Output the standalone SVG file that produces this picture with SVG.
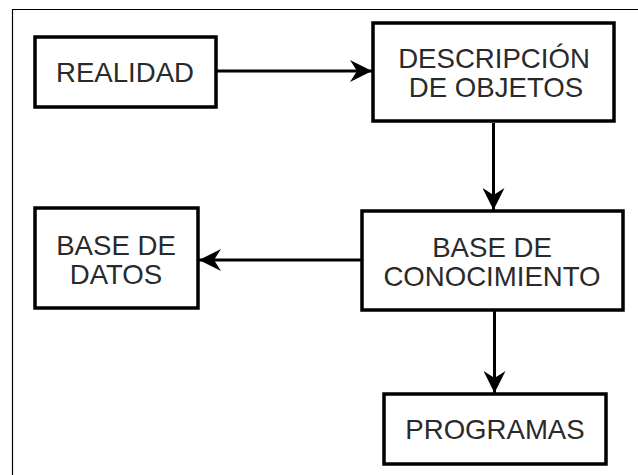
<svg xmlns="http://www.w3.org/2000/svg" width="638" height="475" viewBox="0 0 638 475">
<style>
.box{fill:#fff;stroke:#000;stroke-width:3.5}
.t{font-family:"Liberation Sans",Arial,sans-serif;font-size:27.6px;fill:#2a2a2a;text-anchor:middle}
.c{stroke:#000;stroke-width:3;fill:none}
</style>
<defs>
<marker id="ah" markerWidth="24" markerHeight="22" refX="22" refY="11" orient="auto" markerUnits="userSpaceOnUse">
<path d="M0,0 L22,11 L0,22 L7,11 Z" fill="#000"/>
</marker>
</defs>
<rect width="638" height="475" fill="#fff"/>
<path d="M12.5,475 V9.5 H638" stroke="#000" stroke-width="1.2" fill="none"/>
<g id="connectors">
<line class="c" x1="217" y1="71" x2="372" y2="71" marker-end="url(#ah)"/>
<line class="c" x1="493.5" y1="123" x2="493.5" y2="210" marker-end="url(#ah)"/>
<line class="c" x1="361" y1="260" x2="199" y2="260" marker-end="url(#ah)"/>
<line class="c" x1="494.5" y1="311" x2="494.5" y2="393" marker-end="url(#ah)"/>
</g>
<g id="realidad">
<rect class="box" x="35" y="37" width="181" height="70"/>
<text class="t" x="125" y="82">REALIDAD</text>
</g>
<g id="descripcion">
<rect class="box" x="373" y="23" width="241" height="98"/>
<text class="t" x="494" y="68">DESCRIPCIÓN</text>
<text class="t" x="496" y="97">DE OBJETOS</text>
</g>
<g id="base-conocimiento">
<rect class="box" x="362" y="211" width="261" height="99"/>
<text class="t" x="492" y="257">BASE DE</text>
<text class="t" x="492" y="286">CONOCIMIENTO</text>
</g>
<g id="base-datos">
<rect class="box" x="35" y="208" width="163" height="100"/>
<text class="t" x="116" y="255">BASE DE</text>
<text class="t" x="116" y="284">DATOS</text>
</g>
<g id="programas">
<rect class="box" x="384" y="394" width="222" height="70"/>
<text class="t" x="495" y="439">PROGRAMAS</text>
</g>
</svg>
